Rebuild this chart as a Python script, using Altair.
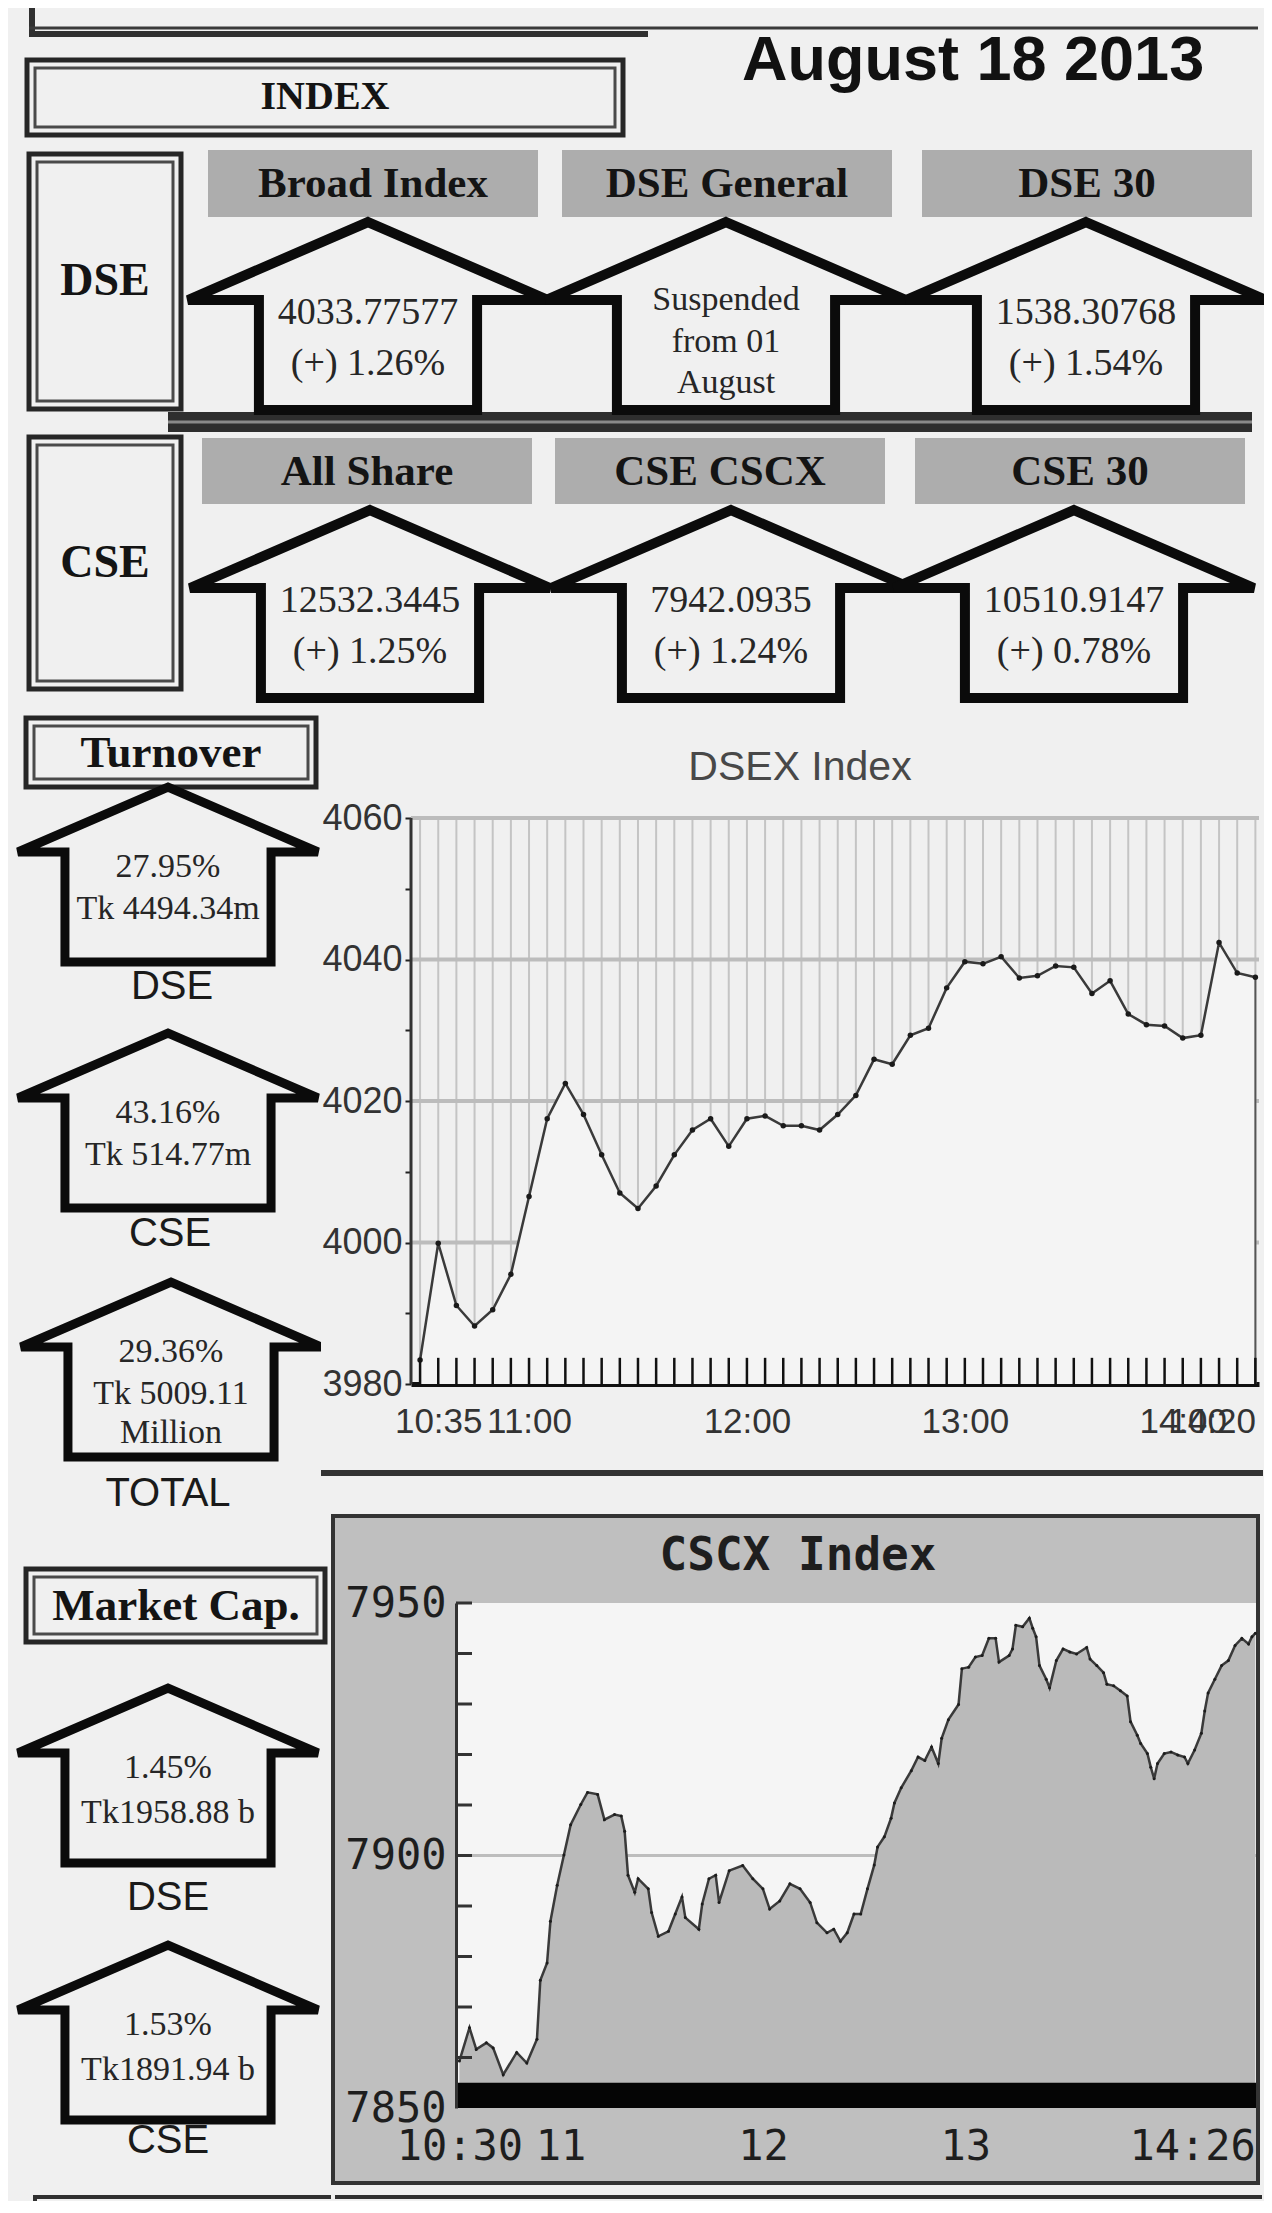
import altair as alt
import pandas as pd

# ---------------- values ----------------
report_date = "August 18 2013"

dse_index_names = ["Broad Index", "DSE General", "DSE 30"]
dse_index_text = [["4033.77577", "(+) 1.26%"],
                  ["Suspended", "from 01", "August"],
                  ["1538.30768", "(+) 1.54%"]]
cse_index_names = ["All Share", "CSE CSCX", "CSE 30"]
cse_index_text = [["12532.3445", "(+) 1.25%"],
                  ["7942.0935", "(+) 1.24%"],
                  ["10510.9147", "(+) 0.78%"]]

turnover_names = ["DSE", "CSE", "TOTAL"]
turnover_text = [["27.95%", "Tk 4494.34m"],
                 ["43.16%", "Tk 514.77m"],
                 ["29.36%", "Tk 5009.11", "Million"]]
mcap_names = ["DSE", "CSE"]
mcap_text = [["1.45%", "Tk1958.88 b"], ["1.53%", "Tk1891.94 b"]]

dsex_times = ["10:30", "10:35", "10:40", "10:45", "10:50", "10:55",
              "11:00", "11:05", "11:10", "11:15", "11:20", "11:25",
              "11:30", "11:35", "11:40", "11:45", "11:50", "11:55",
              "12:00", "12:05", "12:10", "12:15", "12:20", "12:25",
              "12:30", "12:35", "12:40", "12:45", "12:50", "12:55",
              "13:00", "13:05", "13:10", "13:15", "13:20", "13:25",
              "13:30", "13:35", "13:40", "13:45", "13:50", "13:55",
              "14:00", "14:05", "14:10", "14:15", "14:20"]
dsex_values = [3983.4, 3999.9, 3991.1, 3988.2, 3990.5, 3995.5, 4006.5, 4017.5, 4022.5, 4018.1,
               4012.4, 4007.0, 4004.8, 4008.0, 4012.4, 4015.9, 4017.5, 4013.6, 4017.5, 4017.9,
               4016.5, 4016.5, 4015.9, 4018.1, 4020.8, 4025.9, 4025.2, 4029.3, 4030.3, 4036.0,
               4039.7, 4039.4, 4040.4, 4037.4, 4037.7, 4039.1, 4038.9, 4035.2, 4037.0, 4032.3,
               4030.8, 4030.6, 4028.9, 4029.3, 4042.4, 4038.1, 4037.5]
dsex_axis_ticks = [3980, 3990, 4000, 4010, 4020, 4030, 4040, 4050, 4060]
dsex_grid = [4000, 4020, 4040, 4060]
dsex_time_labels = ["10:35", "11:00", "12:00", "13:00", "14:00", "14:20"]

cscx_times = ["10:30", "10:33", "10:35", "10:38", "10:40", "10:43", "10:47", "10:50", "10:53", "10:54",
              "10:56", "10:57", "10:59", "11:01", "11:03", "11:06", "11:08", "11:11", "11:13", "11:16",
              "11:18", "11:19", "11:20", "11:22", "11:23", "11:26", "11:27", "11:29", "11:32", "11:34",
              "11:36", "11:37", "11:41", "11:42", "11:44", "11:46", "11:47", "11:50", "11:54", "11:57",
              "12:00", "12:02", "12:05", "12:08", "12:11", "12:14", "12:16", "12:19", "12:21", "12:23",
              "12:25", "12:27", "12:29", "12:31", "12:33", "12:34", "12:36", "12:38", "12:39", "12:41",
              "12:44", "12:46", "12:48", "12:50", "12:52", "12:53", "12:55", "12:58", "12:59", "13:01",
              "13:03", "13:05", "13:07", "13:09", "13:10", "13:13", "13:14", "13:15", "13:17", "13:19",
              "13:20", "13:21", "13:22", "13:24", "13:25", "13:27", "13:29", "13:31", "13:33", "13:36",
              "13:37", "13:39", "13:41", "13:42", "13:44", "13:46", "13:48", "13:49", "13:51", "13:52",
              "13:54", "13:55", "13:56", "13:57", "13:59", "14:01", "14:03", "14:05", "14:06", "14:08",
              "14:10", "14:11", "14:12", "14:14", "14:16", "14:18", "14:20", "14:22", "14:24", "14:25",
              "14:26"]
cscx_values = [7859.3, 7865.9, 7861.6, 7862.9, 7861.9, 7856.6, 7861.0, 7858.9, 7863.6, 7875.3,
               7878.7, 7887.0, 7894.1, 7900.1, 7906.1, 7910.1, 7912.5, 7912.1, 7907.1, 7908.1,
               7907.8, 7904.8, 7896.1, 7892.7, 7895.4, 7893.4, 7888.7, 7884.0, 7885.0, 7888.4,
               7891.8, 7887.7, 7885.4, 7890.4, 7895.4, 7896.1, 7890.7, 7897.0, 7898.0, 7895.4,
               7893.4, 7889.4, 7891.0, 7894.4, 7893.4, 7890.7, 7886.7, 7884.7, 7885.4, 7883.0,
               7884.7, 7888.4, 7888.4, 7893.4, 7898.1, 7901.7, 7903.7, 7907.4, 7910.4, 7913.4,
               7916.8, 7919.5, 7918.8, 7921.5, 7918.2, 7923.2, 7926.9, 7929.9, 7937.0, 7937.3,
               7939.3, 7939.6, 7943.0, 7943.0, 7938.3, 7939.6, 7940.9, 7945.6, 7945.3, 7947.0,
               7945.0, 7943.3, 7937.6, 7934.9, 7933.2, 7938.6, 7940.9, 7940.3, 7939.9, 7941.2,
               7938.9, 7937.6, 7936.2, 7933.9, 7933.6, 7932.6, 7931.6, 7926.5, 7923.8, 7922.2,
               7920.2, 7917.5, 7915.2, 7918.2, 7920.2, 7920.5, 7919.9, 7919.5, 7918.2, 7920.9,
               7924.2, 7928.6, 7932.2, 7934.9, 7937.6, 7938.6, 7941.6, 7943.0, 7941.9, 7943.3,
               7944.0]
cscx_axis_labels = [7850, 7900, 7950]
cscx_minor_ticks = [7860, 7870, 7880, 7890, 7900, 7910, 7920, 7930, 7940, 7950]
cscx_grid = [7900]
cscx_time_labels = ["10:30", "11:00", "12:00", "13:00", "14:26"]


def to_min(s):
    h, m = s.split(":")
    return int(h) * 60 + int(m)


# ---------------- styles ----------------
BG = "#f0f0f0"
INK = "#141414"
SERIF = "Liberation Serif, Times New Roman, serif"
SANS = "Liberation Sans, Arial, sans-serif"
MONO = "DejaVu Sans Mono, Liberation Mono, monospace"

TOP_ARROW = "M0,-0.522L1,-0.089L0.606,-0.089L0.606,0.522L-0.606,0.522L-0.606,-0.089L-1,-0.089Z"
SIDE_ARROW = "M0,-0.583L1,-0.15L0.687,-0.15L0.687,0.583L-0.687,0.583L-0.687,-0.15L-1,-0.15Z"


def xenc(xs):
    return alt.X("x:Q", scale=xs, axis=None)


def yenc(ys):
    return alt.Y("y:Q", scale=ys, axis=None)


def bar_layer(df, xs, ys):
    return alt.Chart(df).mark_rect().encode(
        x=xenc(xs), x2="x2:Q", y=yenc(ys), y2="y2:Q",
        color=alt.Color("c:N", scale=None))


def rect_layer(df, xs, ys, **mark):
    return alt.Chart(df).mark_rect(**mark).encode(
        x=xenc(xs), x2="x2:Q", y=yenc(ys), y2="y2:Q")


def text_layer(df, xs, ys, font, weight="normal", color=INK, align="center", baseline="middle"):
    return alt.Chart(df).mark_text(font=font, fontWeight=weight, color=color,
                                   align=align, baseline=baseline).encode(
        x=xenc(xs), y=yenc(ys), text="text:N",
        size=alt.Size("fs:Q", scale=None))


def arrow_layer(df, xs, ys, path, size, sw):
    return alt.Chart(df).mark_point(shape=path, size=size, filled=False, color="#0b0b0b",
                                    strokeWidth=sw, opacity=1, clip=True,
                                    strokeJoin="miter", strokeMiterLimit=3).encode(
        x=xenc(xs), y=yenc(ys))


def double_boxes(boxes, xs, ys):
    outer = pd.DataFrame(boxes, columns=["x", "x2", "y", "y2"])
    inner = outer.copy()
    inner["x"] += 8
    inner["x2"] -= 8
    inner["y"] += 8
    inner["y2"] -= 8
    return [rect_layer(outer, xs, ys, fillOpacity=0, stroke="#262626", strokeWidth=5),
            rect_layer(inner, xs, ys, fillOpacity=0, stroke="#4a4a4a", strokeWidth=3)]


def arrow_texts(centers, lines_list, off2, off3, fs2, fs3):
    rows = []
    for (cx, cy), lines in zip(centers, lines_list):
        offs, fs = (off2, fs2) if len(lines) == 2 else (off3, fs3)
        for line, o in zip(lines, offs):
            rows.append({"x": cx, "y": cy + o, "text": line, "fs": fs})
    return pd.DataFrame(rows)


# ---------------- top panel (index boxes) ----------------
TX = alt.Scale(domain=[8, 1264], nice=False, zero=False)
TY = alt.Scale(domain=[8, 712], nice=False, zero=False, reverse=True)

top_bars = pd.DataFrame([
    {"x": 29, "x2": 35, "y": 8, "y2": 37, "c": "#303030"},
    {"x": 29, "x2": 1258, "y": 26.5, "y2": 29.5, "c": "#3a3a3a"},
    {"x": 29, "x2": 648, "y": 31, "y2": 37, "c": "#303030"},
    {"x": 168, "x2": 1252, "y": 412, "y2": 432, "c": "#2e2e2e"},
    {"x": 168, "x2": 1252, "y": 420.5, "y2": 423.5, "c": "#8a8a8a"},
])
top_box_frames = [(27, 623, 60, 135), (29, 181, 154, 409), (29, 181, 437, 689)]
top_box_text = pd.DataFrame([
    {"x": 325, "y": 97, "text": "INDEX", "fs": 40},
    {"x": 105, "y": 281, "text": "DSE", "fs": 46},
    {"x": 105, "y": 563, "text": "CSE", "fs": 46},
])
dse_header_x = [(208, 538), (562, 892), (922, 1252)]
cse_header_x = [(202, 532), (555, 885), (915, 1245)]
headers = pd.DataFrame(
    [{"x": a, "x2": b, "y": 150, "y2": 217} for a, b in dse_header_x] +
    [{"x": a, "x2": b, "y": 438, "y2": 504} for a, b in cse_header_x])
header_text = pd.DataFrame(
    [{"x": (a + b) / 2, "y": 184, "text": n, "fs": 43} for (a, b), n in zip(dse_header_x, dse_index_names)] +
    [{"x": (a + b) / 2, "y": 472, "text": n, "fs": 43} for (a, b), n in zip(cse_header_x, cse_index_names)])
dse_arrow_c = [(368, 316), (726, 316), (1086, 316)]
cse_arrow_c = [(370, 604), (731, 604), (1074, 604)]
top_arrows = pd.DataFrame([{"x": x, "y": y} for x, y in dse_arrow_c + cse_arrow_c])
top_arrow_text = pd.concat([
    arrow_texts(dse_arrow_c, dse_index_text, [-3, 48], [-16, 26, 67], 38, 34),
    arrow_texts(cse_arrow_c, cse_index_text, [-3, 48], [-16, 26, 67], 38, 34)])
date_text = pd.DataFrame([{"x": 742, "y": 80, "text": report_date, "fs": 63}])

top_panel = alt.layer(
    bar_layer(top_bars, TX, TY),
    *double_boxes(top_box_frames, TX, TY),
    rect_layer(headers, TX, TY, color="#adadad"),
    arrow_layer(top_arrows, TX, TY, TOP_ARROW, 360 ** 2, 10),
    text_layer(top_box_text, TX, TY, SERIF, weight="bold"),
    text_layer(header_text, TX, TY, SERIF, weight="bold"),
    text_layer(top_arrow_text, TX, TY, SERIF, color="#262626"),
    text_layer(date_text, TX, TY, SANS, weight="bold", color="#111111", align="left", baseline="alphabetic"),
).properties(width=1256, height=704)

# ---------------- left panels (turnover, market cap) ----------------
L2X = alt.Scale(domain=[8, 321], nice=False, zero=False)
L2Y = alt.Scale(domain=[712, 1514], nice=False, zero=False, reverse=True)
turn_c = [(168, 874.5), (168, 1120.5), (171, 1369.5)]
turn_panel = alt.layer(
    *double_boxes([(26, 316, 718, 787)], L2X, L2Y),
    arrow_layer(pd.DataFrame([{"x": x, "y": y} for x, y in turn_c]), L2X, L2Y, SIDE_ARROW, 300 ** 2, 9),
    text_layer(pd.DataFrame([{"x": 171, "y": 753, "text": "Turnover", "fs": 45}]), L2X, L2Y, SERIF, weight="bold"),
    text_layer(arrow_texts(turn_c, turnover_text, [-8, 34], [-18, 24, 63], 34, 34), L2X, L2Y, SERIF, color="#262626"),
    text_layer(pd.DataFrame([{"x": x, "y": y, "text": n, "fs": 40}
                             for x, y, n in zip([172, 170, 168], [987, 1234, 1494], turnover_names)]),
               L2X, L2Y, SANS, color="#1a1a1a"),
).properties(width=313, height=802)

L3X = alt.Scale(domain=[8, 331], nice=False, zero=False)
L3Y = alt.Scale(domain=[1605, 2203], nice=False, zero=False, reverse=True)
mcap_c = [(168, 1777.5), (168, 2034.5)]
mcap_bars = pd.DataFrame([
    {"x": 33, "x2": 331, "y": 2197, "y2": 2201, "c": "#303030"},
    {"x": 33, "x2": 37, "y": 2197, "y2": 2203, "c": "#303030"},
])
mcap_panel = alt.layer(
    bar_layer(mcap_bars, L3X, L3Y),
    *double_boxes([(26, 325, 1571, 1644)], L3X, L3Y),
    arrow_layer(pd.DataFrame([{"x": x, "y": y} for x, y in mcap_c]), L3X, L3Y, SIDE_ARROW, 300 ** 2, 9),
    text_layer(pd.DataFrame([{"x": 176, "y": 1608, "text": "Market Cap.", "fs": 45}]), L3X, L3Y, SERIF, weight="bold"),
    text_layer(arrow_texts(mcap_c, mcap_text, [-8, 37], [-18, 24, 63], 34, 34), L3X, L3Y, SERIF, color="#262626"),
    text_layer(pd.DataFrame([{"x": x, "y": y, "text": n, "fs": 40}
                             for x, y, n in zip([168, 168], [1900, 2143], mcap_names)]),
               L3X, L3Y, SANS, color="#1a1a1a"),
).properties(width=323, height=598)

# ---------------- DSEX chart ----------------
dsex = pd.DataFrame({"time": dsex_times, "value": dsex_values})
dsex["t"] = dsex["time"].map(to_min)
one = pd.DataFrame({"k": [0]})

DW, DH = 848, 672
dx_scale = alt.Scale(domain=[627.5, 861], nice=False, zero=False)
dy_scale = alt.Scale(domain=[3980, 4075], nice=False, zero=False)
dx_axis = alt.Axis(values=[to_min(s) for s in dsex_time_labels],
                   labelExpr="floor(datum.value / 60) + ':' + (datum.value % 60 < 10 ? '0' : '') + (datum.value % 60)",
                   title=None, ticks=False, grid=False, domain=True, domainColor="#111111", domainWidth=5,
                   labelFont=SANS, labelFontSize=35, labelColor="#333333", labelPadding=20, labelFlush=5,
                   labelOverlap=False)
dy_axis = alt.Axis(values=dsex_axis_ticks,
                   labelExpr="datum.value % 20 == 0 ? '' + datum.value : ''",
                   title=None, grid=False, domain=False, ticks=True, tickSize=6, tickWidth=2,
                   tickColor="#222222", labelFont=SANS, labelFontSize=36, labelColor="#333333",
                   labelPadding=3, labelOverlap=False)
DX = alt.X("t:Q", scale=dx_scale, axis=dx_axis)
DY = alt.Y("value:Q", scale=dy_scale, axis=dy_axis)

dsex_chart = alt.layer(
    alt.Chart(dsex).mark_rule(color="#c4c4c4", strokeWidth=2).encode(
        x=DX, y=alt.YDatum(4060, scale=dy_scale, axis=dy_axis), y2=alt.Y2Datum(3980)),
    alt.Chart(pd.DataFrame({"g": dsex_grid})).mark_rule(color="#bcbcbc", strokeWidth=4).encode(
        y=alt.Y("g:Q", scale=dy_scale, axis=dy_axis)),
    alt.Chart(dsex).mark_area(color="#f4f4f4").encode(x=DX, y=DY, y2=alt.Y2Datum(3980)),
    alt.Chart(dsex.tail(1)).mark_rule(color="#555555", strokeWidth=2).encode(
        x=DX, y=DY, y2=alt.Y2Datum(3980)),
    alt.Chart(dsex).mark_line(color="#3a3a3a", strokeWidth=2.5).encode(x=DX, y=DY),
    alt.Chart(dsex).mark_point(filled=True, color="#1a1a1a", size=30, opacity=1).encode(x=DX, y=DY),
    alt.Chart(dsex).mark_rule(color="#111111", strokeWidth=2.5).encode(
        x=DX, y=alt.YDatum(3980, scale=dy_scale, axis=dy_axis), y2=alt.Y2Datum(3983.7)),
    alt.Chart(one).mark_rule(color="#333333", strokeWidth=3).encode(
        x=alt.value(0), y=alt.YDatum(3980, scale=dy_scale, axis=dy_axis), y2=alt.Y2Datum(4060)),
    alt.Chart(one).mark_text(text="DSEX Index", font=SANS, fontSize=41, color="#484848").encode(
        x=alt.value(389), y=alt.value(56)),
    alt.Chart(one).mark_rect(color="#333333").encode(
        x=alt.value(-90), x2=alt.value(DW + 4), y=alt.value(758), y2=alt.value(764)),
).properties(width=DW, height=DH)

# ---------------- CSCX chart ----------------
cscx = pd.DataFrame({"time": cscx_times, "value": cscx_values})
cscx["t"] = cscx["time"].map(to_min)

CW, CH = 800, 505
cx_scale = alt.Scale(domain=[629, 866.2], nice=False, zero=False)
cy_scale = alt.Scale(domain=[7850, 7950], nice=False, zero=False)
cx_axis = alt.Axis(values=[to_min(s) for s in cscx_time_labels],
                   labelExpr="datum.value % 60 == 0 ? '' + floor(datum.value / 60) : floor(datum.value / 60) + ':' + (datum.value % 60 < 10 ? '0' : '') + (datum.value % 60)",
                   title=None, ticks=False, grid=False, domain=False, zindex=1,
                   labelFont=MONO, labelFontSize=42, labelColor="#1e1e1e", labelPadding=18, labelFlush=2,
                   labelOverlap=False)
cy_axis = alt.Axis(values=cscx_axis_labels, format="d", title=None, ticks=False, grid=False,
                   domain=True, domainColor="#333333", domainWidth=3, zindex=1,
                   labelFont=MONO, labelFontSize=42, labelColor="#1e1e1e", labelPadding=10,
                   labelOverlap=False)
CX = alt.X("t:Q", scale=cx_scale, axis=cx_axis)
CY = alt.Y("value:Q", scale=cy_scale, axis=cy_axis)

cscx_chart = alt.layer(
    alt.Chart(one).mark_rect(color="#bfbfbf", stroke="#333333", strokeWidth=4).encode(
        x=alt.value(-123), x2=alt.value(CW + 2), y=alt.value(-87), y2=alt.value(580)),
    alt.Chart(one).mark_rect(color="#f5f5f5").encode(
        x=alt.value(0), x2=alt.value(CW), y=alt.value(0), y2=alt.value(CH)),
    alt.Chart(pd.DataFrame({"g": cscx_grid})).mark_rule(color="#bdbdbd", strokeWidth=3).encode(
        y=alt.Y("g:Q", scale=cy_scale, axis=cy_axis)),
    alt.Chart(cscx).mark_area(color="#bababa").encode(x=CX, y=CY, y2=alt.Y2Datum(7850)),
    alt.Chart(cscx).mark_line(color="#3a3a3a", strokeWidth=2.5).encode(x=CX, y=CY),
    alt.Chart(cscx).mark_point(filled=True, color="#1c1c1c", size=9, opacity=1).encode(x=CX, y=CY),
    alt.Chart(one).mark_rect(color="#050505").encode(
        x=alt.value(0), x2=alt.value(CW),
        y=alt.YDatum(7855, scale=cy_scale, axis=cy_axis), y2=alt.Y2Datum(7850)),
    alt.Chart(pd.DataFrame({"g": cscx_minor_ticks})).mark_rule(color="#333333", strokeWidth=3).encode(
        y=alt.Y("g:Q", scale=cy_scale, axis=cy_axis), x=alt.value(0), x2=alt.value(16)),
    alt.Chart(one).mark_text(text="CSCX Index", font=MONO, fontWeight="bold", fontSize=46,
                             color="#1e1e1e").encode(x=alt.value(342), y=alt.value(-47)),
    alt.Chart(one).mark_rect(color="#303030").encode(
        x=alt.value(-121), x2=alt.value(CW + 6), y=alt.value(592), y2=alt.value(596)),
).properties(width=CW, height=CH)

# ---------------- assemble ----------------
row2 = alt.hconcat(turn_panel, dsex_chart, spacing=0)
row3 = alt.hconcat(mcap_panel, cscx_chart, spacing=0)
chart = alt.vconcat(top_panel, row2, row3, spacing=0).configure_view(
    strokeWidth=0, stroke="transparent").properties(background=BG, padding=0)

chart.save("out.html", embed_options={"renderer": "svg", "actions": False})
